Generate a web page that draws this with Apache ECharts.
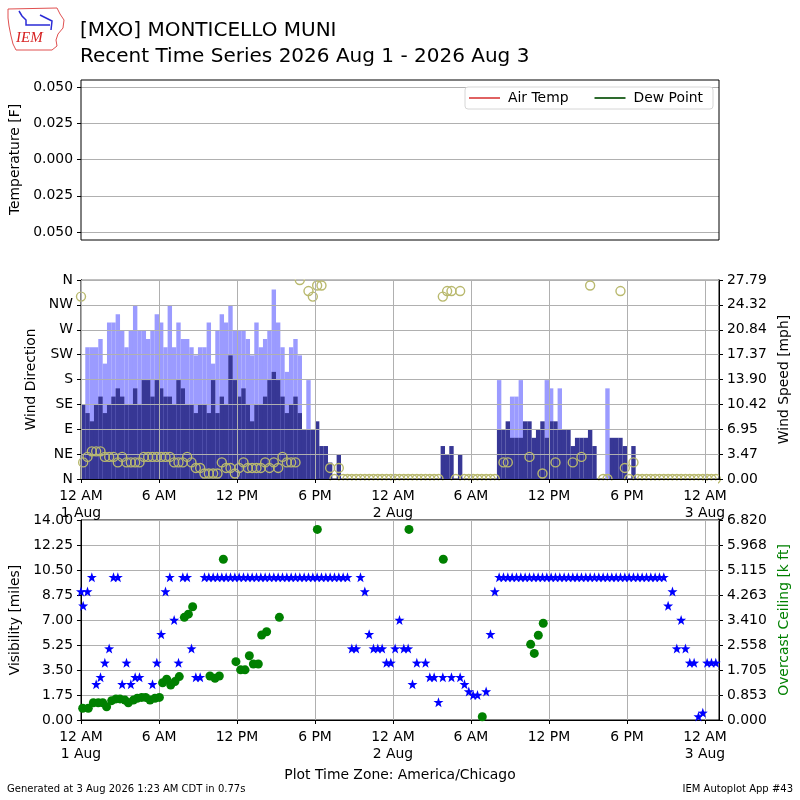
<!DOCTYPE html>
<html>
<head>
<meta charset="utf-8">
<title>MXO Recent Time Series</title>
<script src="https://cdn.jsdelivr.net/npm/echarts@6/dist/echarts.min.js"></script>
<style>
  html, body { margin: 0; padding: 0; background: #fff; }
  #chart { width: 800px; height: 800px; }
</style>
</head>
<body>
<div id="chart"></div>
<script>
// AWOS reports every 20 minutes, first one 00:10 on 1 Aug (hours since midnight)
const obsStartHour = 10 / 60;
const obsStepHour = 20 / 60;
const xMaxHour = 49.08;

// wind speed and gust in knots, one per report (null = not reported)
const speedKt = [
  9, 8, 7, 9, 10, 8, 9, 10, 11, 10,
  9, 9, 11, 9, 12, 12, 10, 12, 11, 10,
  10, 9, 12, 11, 9, 9, 8, 9, 9, 8,
  12, 8, 10, 9, 15, 12, 10, 11, 9, 7,
  9, 9, 10, 12, 13, 12, 10, 8, 9, 10,
  8, 6, 6, 6, 7, 4, 4, 2, 0, 3,
  0, 0, 0, 0, 0, 0, 0, 0, 0, 0,
  0, 0, 0, 0, 0, 0, 0, 0, 0, 0,
  0, 0, 0, 4, 3, 4, 0, 3, 0, 0,
  0, 0, 0, 0, 0, 0, 6, 6, 7, 5,
  5, 5, 7, 7, 5, 6, 7, 5, 7, 7,
  6, 6, 6, 4, 5, 5, 5, 6, 4, 0,
  0, 0, 5, 5, 5, 4, 0, 4, 0, 0,
  0, 0, 0, 0, 0, 0, 0, 0, 0, 0,
  0, 0, 0, 0, 0, 0, 0
];
const gustKt = [
  null, 16, 16, 16, 17, 14, 19, 19, 20, 18,
  16, 18, 21, 18, 18, 17, 18, 20, 19, 16,
  21, 16, 19, 17, 17, 16, 15, 16, 16, 19,
  14, 18, 20, 19, 21, 18, 18, 18, 17, 15,
  19, 16, 17, 18, 23, 19, 16, 13, 16, 17,
  15, null, 12, null, null, null, null, null, null, null,
  null, null, null, null, null, null, null, null, null, null,
  null, null, null, null, null, null, null, null, null, null,
  null, null, null, null, null, null, null, null, null, null,
  null, null, null, null, null, null, 12, null, null, 10,
  10, 12, null, null, null, null, null, 12, 11, null,
  11, null, null, null, null, null, null, null, null, null,
  null, 11, null, null, null, null, null, null, null, null,
  null, null, null, null, null, null, null, null, null, null,
  null, null, null, null, null, null, null
];
// wind direction in degrees
const dirDeg = [
  30, 40, 50, 50, 50, 40, 40, 40, 30, 40,
  30, 30, 30, 30, 40, 40, 40, 40, 40, 40,
  40, 30, 30, 30, 40, 30, 20, 20, 10, 10,
  10, 10, 30, 20, 20, 10, 20, 30, 20, 20,
  20, 20, 30, 20, 30, 20, 40, 30, 30, 30,
  360, null, 340, 330, 350, 350, null, 20, 0, 20,
  0, 0, 0, 0, 0, 0, 0, 0, 0, 0,
  0, 0, 0, 0, 0, 0, 0, 0, 0, 0,
  0, 0, 0, 330, 340, 340, 0, 340, 0, 0,
  0, 0, 0, 0, 0, 0, null, 30, 30, null,
  null, null, null, 40, null, null, 10, null, null, 30,
  null, null, null, 30, null, 40, null, 350, null, null,
  0, 0, null, null, 340, 20, 0, 30, 0, 0,
  0, 0, 0, 0, 0, 0, 0, 0, 0, 0,
  0, 0, 0, 0, 0, 0, 0
];
// visibility in miles
const visMiles = [
  8, 9, 10, 2.5, 3, 4, 5, 10, 10, 2.5,
  4, 2.5, 3, 3, null, null, 2.5, 4, 6, 9,
  10, 7, 4, 10, 10, 5, 3, 3, 10, 10,
  10, 10, 10, 10, 10, 10, 10, 10, 10, 10,
  10, 10, 10, 10, 10, 10, 10, 10, 10, 10,
  10, 10, 10, 10, 10, 10, 10, 10, 10, 10,
  10, 10, 5, 5, 10, 9, 6, 5, 5, 5,
  4, 4, 5, 7, 5, 5, 2.5, 4, null, 4,
  3, 3, 1.25, 3, null, 3, null, 3, 2.5, 2,
  1.75, 1.75, null, 2, 6, 9, 10, 10, 10, 10,
  10, 10, 10, 10, 10, 10, 10, 10, 10, 10,
  10, 10, 10, 10, 10, 10, 10, 10, 10, 10,
  10, 10, 10, 10, 10, 10, 10, 10, 10, 10,
  10, 10, 10, 10, 10, 8, 9, 5, 7, 5,
  4, 4, 0.25, 0.5, 4, 4, 4
];
// report at midnight, just before the regular 20 minute series
const extraHour = [0];
const extraDir = [330];
const extraVis = [9];

// overcast ceiling reports [k ft] and their times (hours since midnight 1 Aug)
const ceilingHour = [
  0.13, 0.56, 0.95, 1.33, 1.67, 1.97, 2.36, 2.69, 3.0, 3.38,
  3.64, 4.03, 4.33, 4.67, 4.97, 5.31, 5.69, 6.03, 6.28, 6.59,
  6.90, 7.23, 7.56, 7.95, 8.26, 8.59, 9.92, 10.31, 10.64, 10.95,
  11.92, 12.28, 12.62, 12.95, 13.26, 13.64, 13.90, 14.28, 15.26, 18.18,
  25.23, 27.87, 30.87, 34.59, 34.87, 35.18, 35.56
];
const ceilingKft = [
  0.40, 0.40, 0.59, 0.59, 0.59, 0.45, 0.66, 0.72, 0.72, 0.68,
  0.59, 0.68, 0.74, 0.77, 0.77, 0.68, 0.74, 0.77, 1.27, 1.39,
  1.19, 1.31, 1.48, 3.50, 3.61, 3.86, 1.50, 1.42, 1.50, 5.48,
  1.99, 1.71, 1.71, 2.19, 1.91, 1.91, 2.90, 3.01, 3.50, 6.50,
  6.50, 5.48, 0.11, 2.58, 2.27, 2.89, 3.30
];

// tick labels
const hourLabels = ['12 AM', '6 AM', '12 PM', '6 PM'];
const dayLabels = ['1 Aug', '2 Aug', '3 Aug'];
const tempTicks = ['0.050', '0.025', '0.000', '0.025', '0.050'];
const dirTicks = ['N', 'NE', 'E', 'SE', 'S', 'SW', 'W', 'NW', 'N'];
const speedTicks = ['0.00', '3.47', '6.95', '10.42', '13.90', '17.37', '20.84', '24.32', '27.79'];
const visTicks = ['0.00', '1.75', '3.50', '5.25', '7.00', '8.75', '10.50', '12.25', '14.00'];
const ceilingTicks = ['0.000', '0.853', '1.705', '2.558', '3.410', '4.263', '5.115', '5.968', '6.820'];

const KT_TO_MPH = 1.15078;
const FONT = 'DejaVu Sans';
const FS = 13.9;
const GRID_LINE = '#b0b0b0';

const obsHour = i => obsStartHour + i * obsStepHour;
const toPairs = (arr, fn) => arr.map((v, i) => v == null ? null : [obsHour(i), fn ? fn(v) : v])
  .filter(p => p !== null);

const speedData = toPairs(speedKt, v => v * KT_TO_MPH);
const gustData = toPairs(gustKt, v => v * KT_TO_MPH);
const dirData = extraHour.map((h, i) => [h, extraDir[i]]).concat(toPairs(dirDeg));
const visData = extraHour.map((h, i) => [h, extraVis[i]]).concat(toPairs(visMiles));
const ceilingData = ceilingHour.map((h, i) => [h, ceilingKft[i]]);

const STAR = 'path://M0,-10L2.35,-3.24L9.51,-3.09L3.8,1.24L5.88,8.09L0,4L-5.88,8.09L-3.8,1.24L-9.51,-3.09L-2.35,-3.24Z';

function timeLabel(v) {
  const k = v / 6;
  if (Math.abs(k - Math.round(k)) > 1e-6) return '';
  const n = Math.round(k);
  const lab = hourLabels[n % 4];
  return n % 4 === 0 ? lab + '\n' + dayLabels[n / 4] : lab;
}

function tickFromArray(labels, min, step) {
  return v => {
    const idx = Math.round((v - min) / step);
    return labels[idx] !== undefined ? labels[idx] : '';
  };
}

function xAxisFor(gridIndex, withLabels) {
  return {
    type: 'value', gridIndex: gridIndex, min: 0, max: xMaxHour, interval: 6,
    z: gridIndex === 1 ? 5 : 0,
    axisLine: { show: withLabels, lineStyle: { color: '#000' } },
    axisTick: { show: withLabels, length: 4, lineStyle: { color: '#000' } },
    axisLabel: {
      show: withLabels, color: '#000', fontSize: FS, fontFamily: FONT,
      lineHeight: 17, margin: 9, showMaxLabel: false, formatter: timeLabel
    },
    splitLine: { show: withLabels, lineStyle: { color: GRID_LINE, width: 1 } }
  };
}

function yAxisFor(o) {
  return {
    type: 'value', gridIndex: o.grid, position: o.pos || 'left',
    min: o.min, max: o.max, interval: o.step,
    z: o.z || 0,
    name: o.name, nameLocation: 'middle', nameGap: o.gap, nameRotate: 90,
    nameTextStyle: { color: o.nameColor || '#000', fontSize: FS, fontFamily: FONT },
    axisLine: { show: o.line !== false, lineStyle: { color: '#000' } },
    axisTick: { show: true, length: 4, lineStyle: { color: '#000' } },
    axisLabel: {
      color: '#000', fontSize: FS, fontFamily: FONT, margin: 8,
      formatter: tickFromArray(o.ticks, o.min, o.step)
    },
    splitLine: { show: !!o.split, lineStyle: { color: GRID_LINE, width: 1 } }
  };
}

const chart = echarts.init(document.getElementById('chart'));

const option = {
  backgroundColor: '#fff',
  animation: false,
  textStyle: { fontFamily: FONT },
  grid: [
    { left: 81, top: 87, width: 638, height: 145, show: false },
    { left: 81, top: 280, width: 638, height: 199, show: true, borderColor: '#000', borderWidth: 1 },
    { left: 81, top: 520, width: 638, height: 200, show: true, borderColor: '#000', borderWidth: 1 }
  ],
  legend: {
    left: 465, top: 87, padding: [4, 10, 4, 4], itemGap: 26,
    icon: 'rect', itemWidth: 31, itemHeight: 2,
    borderColor: '#d6d6d6', borderWidth: 1, borderRadius: 3, backgroundColor: '#fff',
    textStyle: { color: '#000', fontSize: FS, fontFamily: FONT, padding: [0, 0, 0, 3] },
    data: ['Air Temp', 'Dew Point']
  },
  xAxis: [xAxisFor(0, false), xAxisFor(1, true), xAxisFor(2, true)],
  yAxis: [
    yAxisFor({ grid: 0, min: -0.05, max: 0.05, step: 0.025, ticks: tempTicks,
      name: 'Temperature [F]', gap: 52, split: true, line: false }),
    yAxisFor({ grid: 1, min: 0, max: 360, step: 45, ticks: dirTicks, z: 3,
      name: 'Wind Direction', gap: 41, split: true }),
    yAxisFor({ grid: 1, pos: 'right', min: 0, max: 27.79, step: 27.79 / 8, ticks: speedTicks, z: 5,
      name: 'Wind Speed [mph]', gap: 57 }),
    yAxisFor({ grid: 2, min: 0, max: 14, step: 1.75, ticks: visTicks,
      name: 'Visibility [miles]', gap: 56, split: true }),
    yAxisFor({ grid: 2, pos: 'right', min: 0, max: 6.82, step: 0.8525, ticks: ceilingTicks,
      name: 'Overcast Ceiling [k ft]', gap: 56, nameColor: '#008000' })
  ],
  series: [
    { name: 'Air Temp', type: 'line', xAxisIndex: 0, yAxisIndex: 0, data: [],
      symbol: 'none', itemStyle: { color: '#e06262' }, lineStyle: { color: '#e06262', width: 2 } },
    { name: 'Dew Point', type: 'line', xAxisIndex: 0, yAxisIndex: 0, data: [],
      symbol: 'none', itemStyle: { color: '#2e6b2e' }, lineStyle: { color: '#2e6b2e', width: 2 } },
    { name: 'Wind Gust', type: 'bar', xAxisIndex: 1, yAxisIndex: 2, data: gustData,
      barWidth: 4.4, barGap: '-100%', z: 2, itemStyle: { color: '#9b9bff', opacity: 1 } },
    { name: 'Wind Speed', type: 'bar', xAxisIndex: 1, yAxisIndex: 2, data: speedData,
      barWidth: 4.4, barGap: '-100%', z: 2, itemStyle: { color: '#373795', opacity: 1 } },
    { name: 'Wind Dir', type: 'scatter', xAxisIndex: 1, yAxisIndex: 1, data: dirData,
      symbol: 'circle', symbolSize: 9, z: 4,
      itemStyle: { color: 'rgba(0,0,0,0)', borderColor: '#b9b96e', borderWidth: 1.4, opacity: 1 } },
    { name: 'Visibility', type: 'scatter', xAxisIndex: 2, yAxisIndex: 3, data: visData,
      symbol: STAR, symbolSize: 10, z: 4, itemStyle: { color: '#0000ff', opacity: 1 } },
    { name: 'Ceiling', type: 'scatter', xAxisIndex: 2, yAxisIndex: 4, data: ceilingData,
      symbol: 'circle', symbolSize: 9, z: 5, itemStyle: { color: '#008000', opacity: 1 } }
  ],
  graphic: [
    // frame of the empty temperature panel
    { type: 'rect', shape: { x: 81, y: 80, width: 638, height: 160 },
      style: { fill: 'none', stroke: '#000', lineWidth: 1 }, z: 10 },
    // clip the direction markers at the wind panel edges
    { type: 'rect', shape: { x: 82, y: 270, width: 636, height: 9.5 },
      style: { fill: '#fff' }, z: 4.5 },
    { type: 'rect', shape: { x: 82, y: 480.5, width: 636, height: 7 },
      style: { fill: '#fff' }, z: 4.5 },
    // IEM logo
    { type: 'polyline', z: 10,
      shape: { points: [[8, 9], [57, 8], [60, 14], [64, 20], [63, 28], [58, 34], [56, 40], [57, 46],
        [52, 50], [16, 50], [13, 44], [11, 36], [9, 26], [8, 18], [8, 9]] },
      style: { fill: 'none', stroke: '#e05050', lineWidth: 1 } },
    { type: 'polyline', z: 10, shape: { points: [[19, 11], [22, 16], [26, 20], [26, 25], [50, 25]] },
      style: { fill: 'none', stroke: '#2b2bd6', lineWidth: 1.5 } },
    { type: 'polyline', z: 10, shape: { points: [[40, 15], [48, 19], [52, 21], [51, 30]] },
      style: { fill: 'none', stroke: '#2b2bd6', lineWidth: 1.5 } },
    { type: 'text', left: 16, top: 31, z: 10,
      style: { text: 'IEM', fill: '#d62020', font: 'italic 15px "Liberation Serif"' } },
    // titles
    { type: 'text', left: 80, top: 21, z: 10,
      style: { text: '[MXO] MONTICELLO MUNI', fill: '#000', font: '20px "DejaVu Sans"' } },
    { type: 'text', left: 80, top: 47, z: 10,
      style: { text: 'Recent Time Series 2026 Aug 1 - 2026 Aug 3', fill: '#000', font: '20px "DejaVu Sans"' } },
    // footer
    { type: 'text', left: 'center', top: 768, z: 10,
      style: { text: 'Plot Time Zone: America/Chicago', fill: '#000', font: '13.9px "DejaVu Sans"' } },
    { type: 'text', left: 7, top: 784, z: 10,
      style: { text: 'Generated at 3 Aug 2026 1:23 AM CDT in 0.77s', fill: '#000', font: '10px "DejaVu Sans"' } },
    { type: 'text', right: 7, top: 784, z: 10,
      style: { text: 'IEM Autoplot App #43', fill: '#000', font: '10px "DejaVu Sans"' } }
  ]
};

chart.setOption(option);
</script>
</body>
</html>
